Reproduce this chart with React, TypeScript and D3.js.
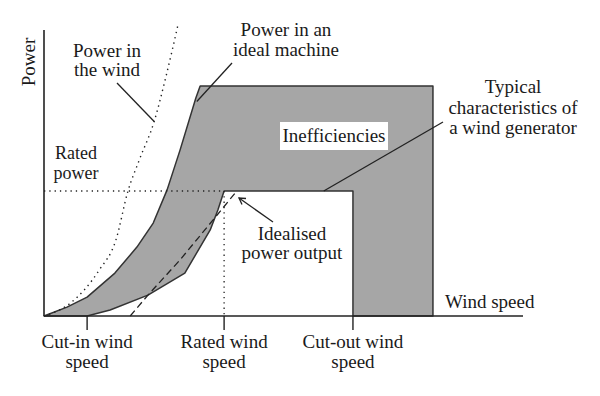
import * as d3 from 'd3'

// wind speed / power in arbitrary units (axis ends at 100)
const windPowerV = [0, 5.5, 11.5, 15, 17.5, 20, 23, 25.5, 28]
const windPowerP = [0, 4.5, 16, 26.5, 43.5, 55, 68, 84, 102]

const idealV = [0, 4.8, 9, 14.8, 19.4, 22.8, 25.7, 28.4, 31.7, 32.6]
const idealP = [0, 3.1, 6.6, 15, 24.1, 32.5, 44.1, 58, 76.2, 80.4]

const generatorV = [9, 13.8, 21.7, 29.4, 34.7, 36.3, 37.6]
const generatorP = [0, 2.1, 7.3, 15, 30.1, 37.1, 43.7]

const idealisedV = [18, 21.7, 28.4, 35.3, 39.9]
const idealisedP = [0, 7.3, 19.6, 33.6, 43]

const cutIn = 9
const ratedSpeed = 37.6
const cutOut = 64.5
const machineLimit = 81.2
const ratedPower = 43.7
const maxPower = 80.4

const tickLabels = [
  { v: cutIn, lines: ['Cut-in wind', 'speed'] },
  { v: ratedSpeed, lines: ['Rated wind', 'speed'] },
  { v: cutOut, lines: ['Cut-out wind', 'speed'] },
]

const W = 600
const H = 396
const margin = { top: 30, right: 77, bottom: 80, left: 44 }

const x = d3.scaleLinear().domain([0, 100]).range([margin.left, W - margin.right])
const y = d3.scaleLinear().domain([0, 100]).range([H - margin.bottom, margin.top])

const zip = (vs: number[], ps: number[]) => vs.map((v, i) => [v, ps[i]] as [number, number])

const plain = d3
  .line<[number, number]>()
  .x((d) => x(d[0]))
  .y((d) => y(d[1]))

const smooth = d3
  .line<[number, number]>()
  .x((d) => x(d[0]))
  .y((d) => y(d[1]))
  .curve(d3.curveMonotoneX)

const font = { fontFamily: '"Liberation Serif", serif', fontSize: 19, fill: '#1a1a1a' }

const App = () => {
  const ideal = zip(idealV, idealP)
  const gen = zip(generatorV, generatorP).reverse()
  const shape: [number, number][] = [
    ...ideal,
    [machineLimit, maxPower],
    [machineLimit, 0],
    [cutOut, 0],
    [cutOut, ratedPower],
    [ratedSpeed, ratedPower],
    ...gen,
    [0, 0],
  ]

  return (
    <svg
      width={W}
      height={H}
      style={{ position: 'absolute', left: 0, top: 0, background: '#fff' }}
    >
      <path d={plain(shape) + 'Z'} fill="#a6a6a6" stroke="#333" strokeWidth={1.5} strokeLinejoin="round" />

      {/* rated power / rated speed guides */}
      <line x1={x(0)} x2={x(ratedSpeed)} y1={y(ratedPower)} y2={y(ratedPower)} stroke="#222" strokeWidth={1.3} strokeDasharray="1.3 4" />
      <line x1={x(ratedSpeed)} x2={x(ratedSpeed)} y1={y(ratedPower)} y2={y(0)} stroke="#222" strokeWidth={1.3} strokeDasharray="1.3 4" />

      {/* power in the wind */}
      <path d={smooth(zip(windPowerV, windPowerP)) ?? ''} fill="none" stroke="#222" strokeWidth={1.4} strokeDasharray="1.4 4" />

      {/* idealised output */}
      <path d={plain(zip(idealisedV, idealisedP)) ?? ''} fill="none" stroke="#222" strokeWidth={1.3} strokeDasharray="7 4" />

      {/* axes */}
      <line x1={x(0)} x2={x(0)} y1={y(0)} y2={y(100)} stroke="#222" strokeWidth={1.6} />
      <line x1={x(0)} x2={x(100)} y1={y(0)} y2={y(0)} stroke="#222" strokeWidth={1.6} />
      {tickLabels.map((t) => (
        <g key={t.v}>
          <line x1={x(t.v)} x2={x(t.v)} y1={y(0)} y2={y(0) + 14} stroke="#222" strokeWidth={1.4} />
          {t.lines.map((s, i) => (
            <text key={s} x={x(t.v)} y={y(0) + 32 + i * 20} textAnchor="middle" {...font}>
              {s}
            </text>
          ))}
        </g>
      ))}

      <text transform={`translate(${x(0) - 9},62) rotate(-90)`} textAnchor="middle" {...font}>
        Power
      </text>
      <text x={445} y={308} {...font}>Wind speed</text>

      <text textAnchor="middle" {...font}>
        <tspan x={107} y={57}>Power in</tspan>
        <tspan x={107} y={76}>the wind</tspan>
      </text>
      <line x1={117} y1={83} x2={x(23)} y2={y(68)} stroke="#222" strokeWidth={1.3} />

      <text textAnchor="middle" {...font}>
        <tspan x={286} y={36}>Power in an</tspan>
        <tspan x={286} y={56}>ideal machine</tspan>
      </text>
      <line x1={232} y1={63} x2={x(31.9)} y2={y(75)} stroke="#222" strokeWidth={1.3} />

      <text textAnchor="middle" {...font} fontSize={18}>
        <tspan x={76} y={159}>Rated</tspan>
        <tspan x={76} y={179}>power</tspan>
      </text>

      <rect x={280} y={122} width={108} height={28} fill="#fff" />
      <text x={334} y={142} textAnchor="middle" {...font}>Inefficiencies</text>

      <text textAnchor="middle" {...font}>
        <tspan x={513} y={93}>Typical</tspan>
        <tspan x={513} y={114}>characteristics of</tspan>
        <tspan x={513} y={134}>a wind generator</tspan>
      </text>
      <line x1={443} y1={122} x2={x(58.4)} y2={y(ratedPower)} stroke="#222" strokeWidth={1.3} />

      <text textAnchor="middle" {...font}>
        <tspan x={292} y={240}>Idealised</tspan>
        <tspan x={292} y={259}>power output</tspan>
      </text>
      <line x1={273} y1={222} x2={239} y2={198} stroke="#222" strokeWidth={1.3} />
      <path d="M246,198.5 L239,198 L242,204.5" fill="none" stroke="#222" strokeWidth={1.3} />
    </svg>
  )
}

export default App
